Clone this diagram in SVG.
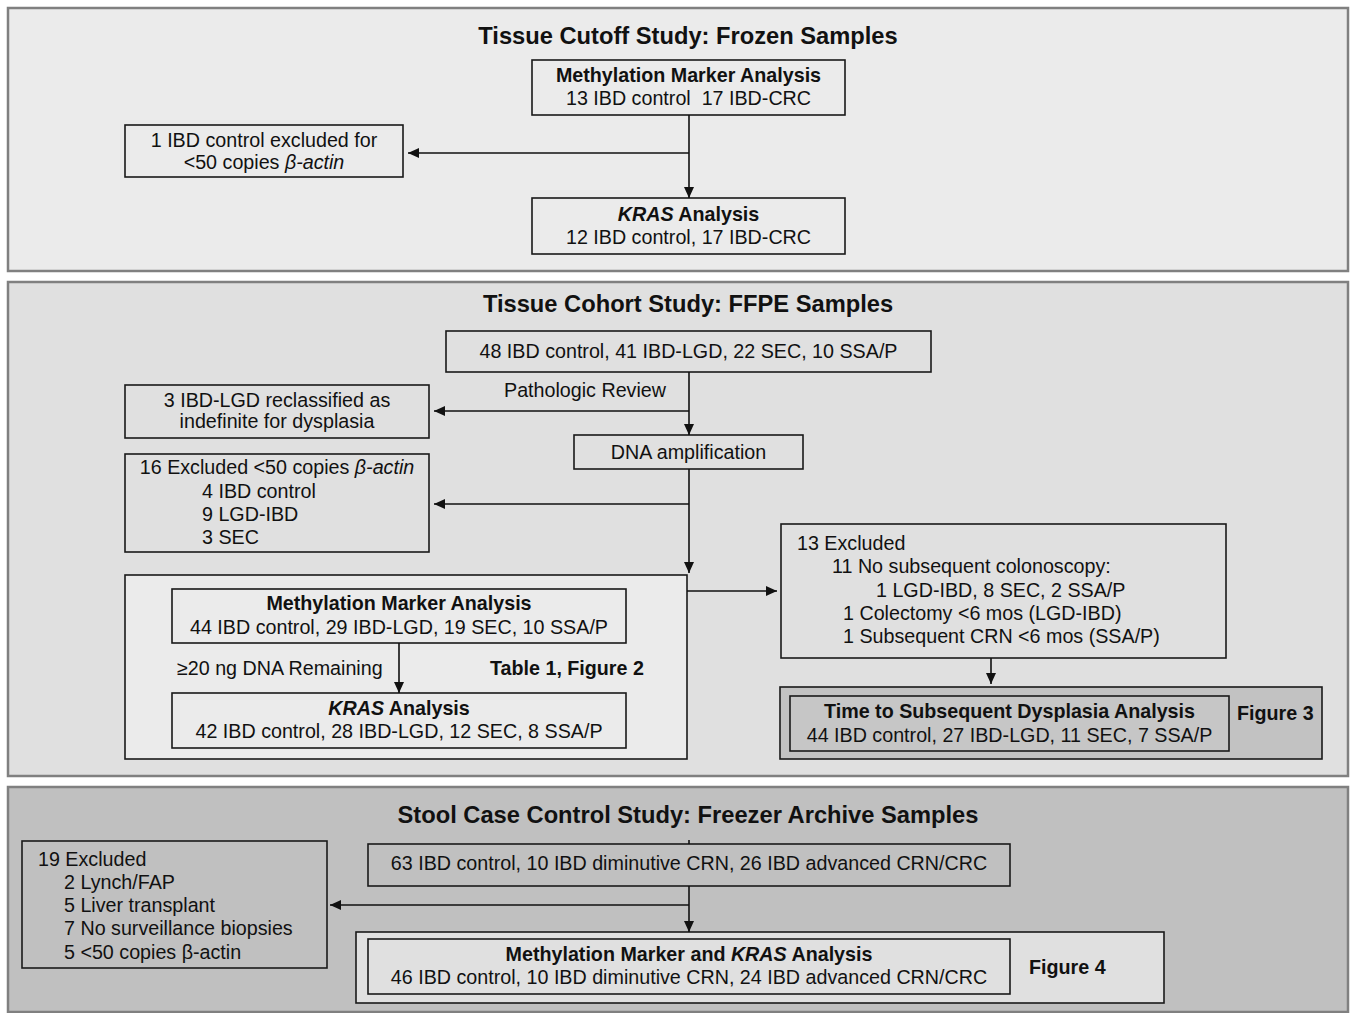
<svg xmlns="http://www.w3.org/2000/svg" width="1353" height="1013" viewBox="0 0 1353 1013">
<defs>
<marker id="arr" viewBox="0 0 11 10" refX="11" refY="5" markerWidth="11" markerHeight="10" markerUnits="userSpaceOnUse" orient="auto">
<path d="M0,0 L11,5 L0,10 z" fill="#111"/>
</marker>
<style>
.panel{stroke:#808080;stroke-width:2.5}
.box{stroke:#1a1a1a;stroke-width:1.6}
.t{font-family:"Liberation Sans",Arial,sans-serif;font-size:19.7px;fill:#111}
.c{text-anchor:middle}
.b{font-weight:bold}
.title{font-family:"Liberation Sans",Arial,sans-serif;font-size:23.7px;font-weight:bold;fill:#111;text-anchor:middle}
.i{font-style:italic}
.ln{stroke:#111;stroke-width:1.6;fill:none}
</style>
</defs>
<rect width="1353" height="1013" fill="#ffffff"/>

<g id="panel1">
<rect class="panel" x="8" y="8" width="1340" height="263" fill="#ebebeb"/>
<text class="title" x="688" y="44">Tissue Cutoff Study: Frozen Samples</text>
</g>
<g id="p1-meth">
<rect class="box" x="532" y="60" width="313" height="55" fill="#ebebeb"/>
<text class="t c b" x="688.5" y="82">Methylation Marker Analysis</text>
<text class="t c" x="688.5" y="105">13 IBD control&#160; 17 IBD-CRC</text>
</g>
<g id="p1-excl">
<rect class="box" x="125" y="125" width="278" height="52" fill="#ebebeb"/>
<text class="t c" x="264" y="147">1 IBD control excluded for</text>
<text class="t c" x="264" y="169">&lt;50 copies <tspan class="i">β-actin</tspan></text>
</g>
<g id="p1-kras">
<rect class="box" x="532" y="198" width="313" height="56" fill="#ebebeb"/>
<text class="t c b" x="688.5" y="221"><tspan class="i">KRAS</tspan> Analysis</text>
<text class="t c" x="688.5" y="244">12 IBD control, 17 IBD-CRC</text>
</g>

<g id="panel2">
<rect class="panel" x="8" y="282" width="1340" height="494" fill="#e0e0e0"/>
<text class="title" x="688" y="312">Tissue Cohort Study: FFPE Samples</text>
</g>
<g id="p2-start">
<rect class="box" x="446" y="331" width="485" height="41" fill="#e0e0e0"/>
<text class="t c" x="688.5" y="358">48 IBD control, 41 IBD-LGD, 22 SEC, 10 SSA/P</text>
</g>
<g id="p2-review-label">
<text class="t c" x="585" y="397">Pathologic Review</text>
</g>
<g id="p2-excl1">
<rect class="box" x="125" y="385" width="304" height="53" fill="#e0e0e0"/>
<text class="t c" x="277" y="407">3 IBD-LGD reclassified as</text>
<text class="t c" x="277" y="428">indefinite for dysplasia</text>
</g>
<g id="p2-dna">
<rect class="box" x="574" y="435" width="229" height="34" fill="#e0e0e0"/>
<text class="t c" x="688.5" y="459">DNA amplification</text>
</g>
<g id="p2-excl2">
<rect class="box" x="125" y="454" width="304" height="98" fill="#e0e0e0"/>
<text class="t c" x="277" y="474">16 Excluded &lt;50 copies <tspan class="i">β-actin</tspan></text>
<text class="t" x="202" y="498">4 IBD control</text>
<text class="t" x="202" y="521">9 LGD-IBD</text>
<text class="t" x="202" y="544">3 SEC</text>
</g>
<g id="p2-container">
<rect class="box" x="125" y="575" width="562" height="184" fill="#ebebeb"/>
<text class="t" x="177" y="675">≥20 ng DNA Remaining</text>
<text class="t b" x="490" y="675">Table 1, Figure 2</text>
</g>
<g id="p2-meth">
<rect class="box" x="172" y="589" width="454" height="54" fill="#ebebeb"/>
<text class="t c b" x="399" y="610">Methylation Marker Analysis</text>
<text class="t c" x="399" y="634">44 IBD control, 29 IBD-LGD, 19 SEC, 10 SSA/P</text>
</g>
<g id="p2-kras">
<rect class="box" x="172" y="693" width="454" height="55" fill="#ebebeb"/>
<text class="t c b" x="399" y="715"><tspan class="i">KRAS</tspan> Analysis</text>
<text class="t c" x="399" y="738">42 IBD control, 28 IBD-LGD, 12 SEC, 8 SSA/P</text>
</g>
<g id="p2-excl3">
<rect class="box" x="781" y="524" width="445" height="134" fill="#e0e0e0"/>
<text class="t" x="797" y="550">13 Excluded</text>
<text class="t" x="832" y="573">11 No subsequent colonoscopy:</text>
<text class="t" x="876" y="597">1 LGD-IBD, 8 SEC, 2 SSA/P</text>
<text class="t" x="843" y="620">1 Colectomy &lt;6 mos (LGD-IBD)</text>
<text class="t" x="843" y="643">1 Subsequent CRN &lt;6 mos (SSA/P)</text>
</g>
<g id="p2-fig3">
<rect class="box" x="780" y="687" width="542" height="72" fill="#c2c2c2"/>
<rect class="box" x="790" y="696" width="439" height="55" fill="#c6c6c6"/>
<text class="t c b" x="1009.5" y="718">Time to Subsequent Dysplasia Analysis</text>
<text class="t c" x="1009.5" y="742">44 IBD control, 27 IBD-LGD, 11 SEC, 7 SSA/P</text>
<text class="t b" x="1237" y="720">Figure 3</text>
</g>

<g id="panel3">
<rect class="panel" x="8" y="787" width="1340" height="225" fill="#c0c0c0"/>
<text class="title" x="688" y="823">Stool Case Control Study: Freezer Archive Samples</text>
</g>
<g id="p3-start">
<rect class="box" x="368" y="844" width="642" height="42" fill="#c0c0c0"/>
<text class="t c" x="689" y="870">63 IBD control, 10 IBD diminutive CRN, 26 IBD advanced CRN/CRC</text>
</g>
<g id="p3-excl">
<rect class="box" x="22" y="841" width="305" height="127" fill="#c0c0c0"/>
<text class="t" x="38" y="866">19 Excluded</text>
<text class="t" x="64" y="889">2 Lynch/FAP</text>
<text class="t" x="64" y="912">5 Liver transplant</text>
<text class="t" x="64" y="935">7 No surveillance biopsies</text>
<text class="t" x="64" y="959">5 &lt;50 copies β-actin</text>
</g>
<g id="p3-fig4">
<rect class="box" x="356" y="932" width="808" height="71" fill="#e0e0e0"/>
<rect class="box" x="368" y="939" width="642" height="55" fill="#e0e0e0"/>
<text class="t c b" x="689" y="961">Methylation Marker and <tspan class="i">KRAS</tspan> Analysis</text>
<text class="t c" x="689" y="984">46 IBD control, 10 IBD diminutive CRN, 24 IBD advanced CRN/CRC</text>
<text class="t b" x="1029" y="974">Figure 4</text>
</g>

<g id="connectors">
<line class="ln" x1="689" y1="115" x2="689" y2="198" marker-end="url(#arr)"/>
<line class="ln" x1="689" y1="153" x2="408" y2="153" marker-end="url(#arr)"/>
<line class="ln" x1="689" y1="372" x2="689" y2="435" marker-end="url(#arr)"/>
<line class="ln" x1="689" y1="411" x2="434" y2="411" marker-end="url(#arr)"/>
<line class="ln" x1="689" y1="469" x2="689" y2="573" marker-end="url(#arr)"/>
<line class="ln" x1="689" y1="504" x2="434" y2="504" marker-end="url(#arr)"/>
<line class="ln" x1="687" y1="591" x2="777" y2="591" marker-end="url(#arr)"/>
<line class="ln" x1="991" y1="658" x2="991" y2="684" marker-end="url(#arr)"/>
<line class="ln" x1="399" y1="643" x2="399" y2="693" marker-end="url(#arr)"/>
<line class="ln" x1="689" y1="840" x2="689" y2="844"/>
<line class="ln" x1="689" y1="886" x2="689" y2="932" marker-end="url(#arr)"/>
<line class="ln" x1="689" y1="905" x2="330" y2="905" marker-end="url(#arr)"/>
</g>
</svg>
